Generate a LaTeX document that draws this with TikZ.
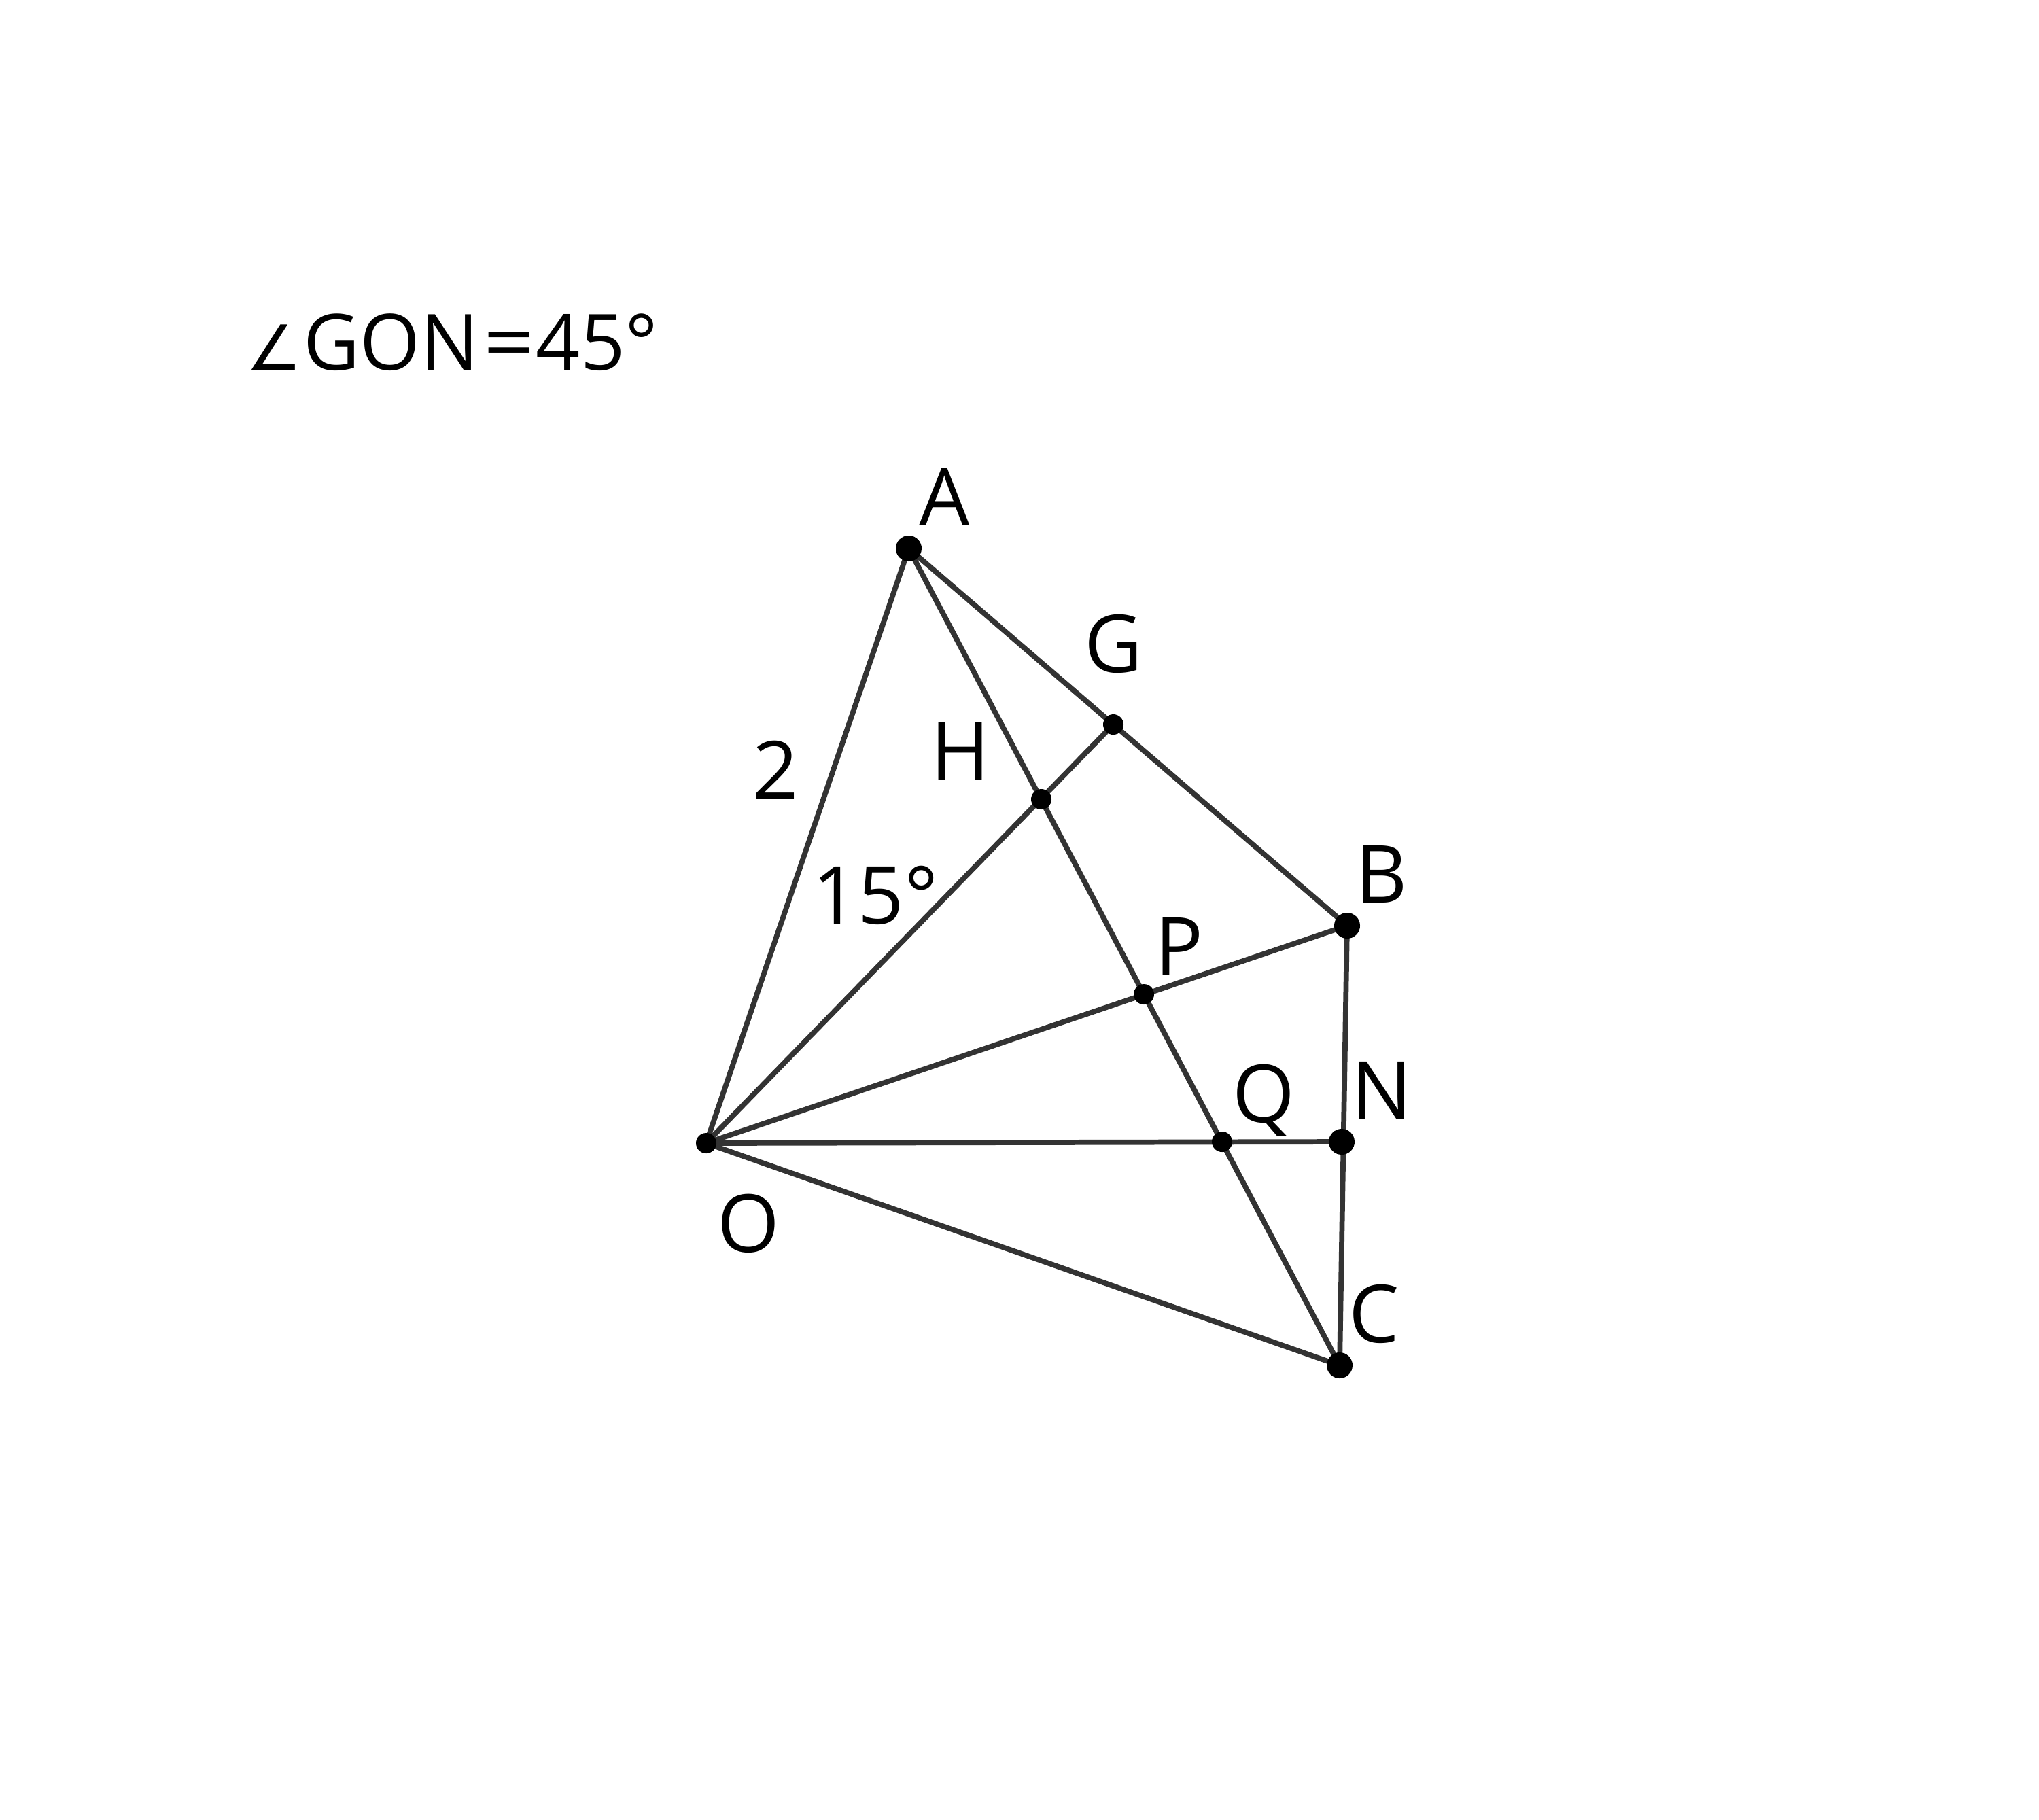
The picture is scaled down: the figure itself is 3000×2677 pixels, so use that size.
\documentclass[tikz,border=0pt]{standalone}
\usepackage{fontspec}
\setmainfont{Open Sans}
\newfontfamily\symfont{DejaVu Sans}
\begin{document}
\begin{tikzpicture}[x=0.01cm,y=-0.01cm,
  seg/.style={draw=black!80,line width=2.2pt,line cap=round},
  bigdot/.style={fill=black},
  lbl/.style={font=\fontsize{33.5}{40}\selectfont,inner sep=0pt,anchor=base}]
\useasboundingbox (0,0) rectangle (3000,2677);
% points
\coordinate (A) at (1337,807);
\coordinate (G) at (1638,1066);
\coordinate (H) at (1532,1176);
\coordinate (B) at (1982,1362);
\coordinate (P) at (1683,1463);
\coordinate (O) at (1039,1682);
\coordinate (Q) at (1798,1680);
\coordinate (N) at (1974,1680);
\coordinate (C) at (1971,2009);
% segments
\draw[seg] (O) -- (A);
\draw[seg] (A) -- (B);
\draw[seg] (A) -- (C);
\draw[seg] (O) -- (G);
\draw[seg] (O) -- (B);
\draw[seg] (O) -- (N);
\draw[seg] (O) -- (C);
\draw[seg] (B) -- (C);
% dots
\foreach \p in {A,B,N,C} \fill[bigdot] (\p) circle[radius=0.19cm];
\foreach \p in {O,G,H,P,Q} \fill[bigdot] (\p) circle[radius=0.15cm];
% labels
\node[lbl] (lA) at (1390,773) {A};
\node[lbl] (lG) at (1638,989) {G};
\node[lbl] (lH) at (1413,1147) {H};
\node[lbl] (lB) at (2033,1328) {B};
\node[lbl] (lP) at (1735,1434) {P};
\node[lbl] (lQ) at (1859,1651) {Q};
\node[lbl] (lN) at (2033,1646) {N};
\node[lbl] (lC) at (2022,1975) {C};
\node[lbl] (lO) at (1101,1842) {O};
\node[lbl] (l2) at (1141,1175) {2};
\node[lbl] (l15) at (1288,1359) {15°};
\node[lbl,font=\fontsize{32.5}{40}\selectfont,anchor=base west] (title) at (362,544)
  {{\symfont\fontsize{26}{30}\selectfont ∠}\hspace{0.5pt}GON\hspace{2pt}\scalebox{1.15}[1]{=}\hspace{0.5pt}45°};
\end{tikzpicture}
\end{document}
